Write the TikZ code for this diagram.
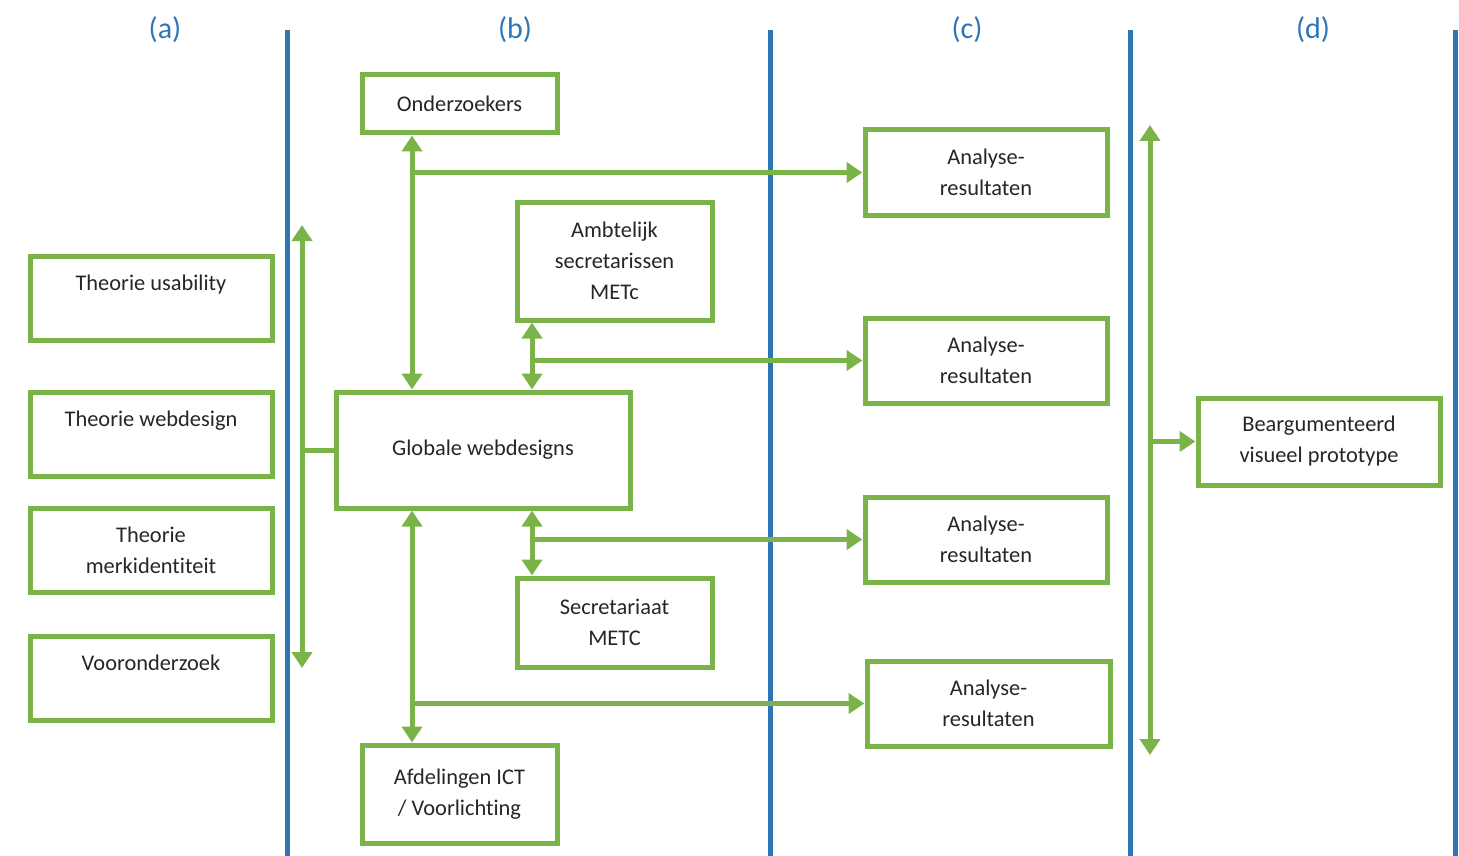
\documentclass[tikz,border=0pt]{standalone}
\usepackage{fontspec}
\setmainfont{Carlito}[Ligatures={NoCommon}]
\usetikzlibrary{arrows.meta}
\definecolor{gr}{RGB}{122,180,72}
\definecolor{bl}{RGB}{46,117,182}
\begin{document}
\begin{tikzpicture}[x=1pt,y=-1pt,
  box/.style={draw=gr, line width=5pt, fill=white, align=center,
    font=\fontsize{22.4}{31}\selectfont, text=black!85, inner sep=0pt},
  sep/.style={draw=bl, line width=5pt},
  link/.style={draw=gr, line width=5pt},
  arr/.style={link, -{Triangle[width=20pt,length=16pt]}},
  darr/.style={link, {Triangle[width=20pt,length=16pt]}-{Triangle[width=20pt,length=16pt]}},
  hdr/.style={text=bl, font=\fontsize{30}{36}\selectfont, inner sep=0pt}]
\useasboundingbox (0,0) rectangle (1459,856);
% column separators
\coordinate (s1t) at (287,30); \coordinate (s1b) at (287,856);
\coordinate (s2t) at (770,30); \coordinate (s2b) at (770,856);
\coordinate (s3t) at (1130,30); \coordinate (s3b) at (1130,856);
\coordinate (s4t) at (1455,30); \coordinate (s4b) at (1455,856);
\draw[sep] (s1t) -- (s1b);
\draw[sep] (s2t) -- (s2b);
\draw[sep] (s3t) -- (s3b);
\draw[sep] (s4t) -- (s4b);
% headers
\node[hdr] (ha) at (165,30) {(a)};
\node[hdr] (hb) at (515,30) {(b)};
\node[hdr] (hc) at (967,30) {(c)};
\node[hdr] (hd) at (1313,30) {(d)};
% column (a)
\node[box, minimum width=242, minimum height=84] (tu) at (151,298) {Theorie usability\\\mbox{}};
\node[box, minimum width=242, minimum height=84] (tw) at (151,434) {Theorie webdesign\\\mbox{}};
\node[box, minimum width=242, minimum height=84] (tm) at (151,550) {Theorie\\merkidentiteit};
\node[box, minimum width=242, minimum height=84] (vo) at (151,678) {Vooronderzoek\\\mbox{}};
% column (b)
\node[box, minimum width=195, minimum height=58] (onder) at (459.5,104) {Onderzoekers};
\node[box, minimum width=195, minimum height=118] (amb) at (614.5,261) {Ambtelijk\\secretarissen\\METc};
\node[box, minimum width=294, minimum height=116] (glob) at (483,450) {Globale webdesigns};
\node[box, minimum width=195, minimum height=89] (sec) at (614.5,622.5) {Secretariaat\\METC};
\node[box, minimum width=195, minimum height=98] (afd) at (459.5,794) {Afdelingen ICT\\/ Voorlichting};
% column (c)
\node[box, minimum width=242, minimum height=85] (an1) at (986,172.5) {Analyse-\\resultaten};
\node[box, minimum width=242, minimum height=85] (an2) at (986,360.5) {Analyse-\\resultaten};
\node[box, minimum width=242, minimum height=85] (an3) at (986,539.5) {Analyse-\\resultaten};
\node[box, minimum width=243, minimum height=85] (an4) at (988.5,703.5) {Analyse-\\resultaten};
% column (d)
\node[box, minimum width=242, minimum height=87] (bea) at (1319,441.5) {Beargumenteerd\\visueel prototype};
% connector helpers
\coordinate (xa) at (302,0);
\coordinate (xl) at (412,0);
\coordinate (xm) at (532,0);
\coordinate (xd) at (1150,0);
\coordinate (la1) at (302,225); \coordinate (la2) at (302,668);
\coordinate (ra1) at (1150,125); \coordinate (ra2) at (1150,755);
% connectors
\draw[darr] (la1) -- (la2);
\draw[link] (glob.west -| xa) -- (glob.west);
\draw[darr] (onder.south -| xl) -- (glob.north -| xl);
\draw[arr] (an1.west -| xl) -- (an1.west);
\draw[darr] (amb.south -| xm) -- (glob.north -| xm);
\draw[arr] (an2.west -| xm) -- (an2.west);
\draw[darr] (glob.south -| xm) -- (sec.north -| xm);
\draw[arr] (an3.west -| xm) -- (an3.west);
\draw[darr] (glob.south -| xl) -- (afd.north -| xl);
\draw[arr] (an4.west -| xl) -- (an4.west);
\draw[darr] (ra1) -- (ra2);
\draw[arr] (bea.west -| xd) -- (bea.west);
\end{tikzpicture}
\end{document}
